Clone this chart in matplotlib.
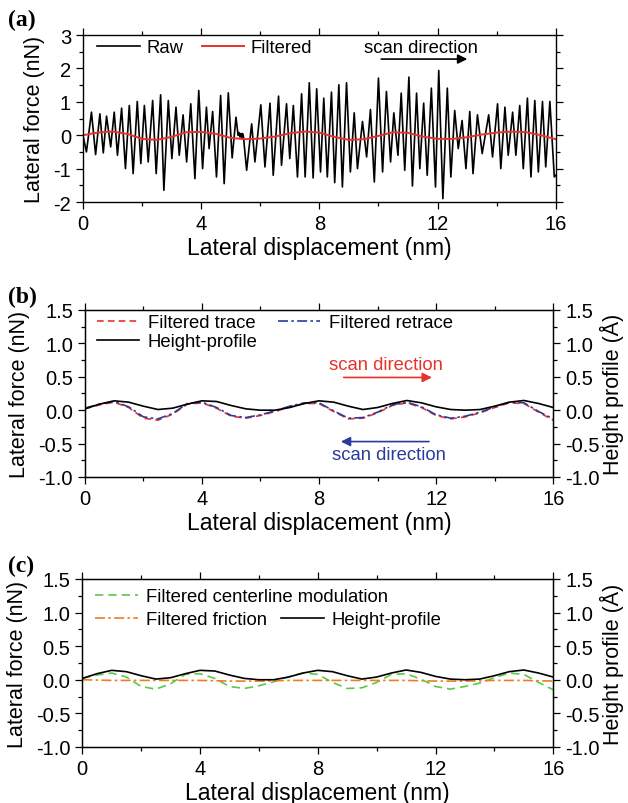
import matplotlib
matplotlib.use("Agg")
import matplotlib.pyplot as plt
from matplotlib.ticker import MultipleLocator

plt.rcParams['font.family'] = ['Liberation Sans', 'DejaVu Sans']
plt.rcParams['axes.unicode_minus'] = False

# ---------------- data ----------------
# Panel (a): raw lateral force (extrema) and filtered signal
raw_x = [0, 0.12, 0.29, 0.43, 0.575, 0.69, 0.80, 0.94, 1.06, 1.17, 1.31, 1.44, 1.57, 1.70,
         1.84, 1.96, 2.08, 2.21, 2.36, 2.48, 2.63, 2.74, 2.89, 3.01, 3.15, 3.26, 3.39, 3.51,
         3.65, 3.79, 3.92, 4.05, 4.18, 4.27, 4.39, 4.52, 4.66, 4.78, 4.92, 5.05, 5.18,
         5.25, 5.28, 5.31, 5.34, 5.37, 5.40, 5.43, 5.54, 5.71, 5.82, 6.02, 6.16, 6.33, 6.44,
         6.62, 6.72, 6.89, 7.00, 7.12, 7.26, 7.40, 7.52, 7.66, 7.79, 7.91, 8.04,
         8.15, 8.27, 8.41, 8.52, 8.66, 8.78, 8.92, 9.05, 9.18, 9.29, 9.46, 9.60, 9.73, 9.86,
         10.0, 10.14, 10.27, 10.41, 10.52, 10.66, 10.77, 10.89, 11.03, 11.15, 11.29, 11.40,
         11.53, 11.65, 11.79, 11.93, 12.04, 12.18,
         12.33, 12.45, 12.58, 12.70, 12.83, 12.96, 13.09, 13.20, 13.35, 13.51, 13.73, 13.86,
         14.03, 14.14, 14.28, 14.39, 14.54, 14.65, 14.78, 14.90, 15.04, 15.16, 15.29, 15.41,
         15.55, 15.66, 15.80, 15.95, 16.0]
raw_y = [0.0, -0.50, 0.69, -0.58, 0.64, -0.53, 0.57, -0.35, 0.69, -0.60, 0.81, -1.00, 0.89, -1.15,
         1.01, -0.85, 0.89, -0.80, 1.04, -1.15, 1.21, -1.65, 1.04, -0.70, 0.84, -0.60, 0.61, -0.80,
         0.94, -1.30, 1.34, -1.00, 0.84, -0.40, 0.71, -1.25, 1.19, -1.45, 1.27, -0.68, 0.54,
         0.00, 0.08, -0.05, 0.05, -0.08, 0.05, -0.02, -1.05, 0.34, -0.80, 0.91, -0.95, 0.96, -1.20,
         1.17, -0.90, 0.94, -0.70, 0.89, -1.25, 1.24, -1.25, 1.57, -1.28, 1.39, -1.10,
         1.11, -1.25, 1.29, -1.42, 1.51, -1.55, 1.57, -1.10, 0.67, -1.00, 0.41, -0.65, 0.77, -1.40,
         1.71, -1.10, 1.31, -0.80, 0.67, -0.60, 1.26, -1.05, 1.74, -1.52, 1.26, -1.00,
         0.96, -1.20, 1.41, -1.55, 1.94, -1.90,
         1.41, -1.25, 0.74, -0.40, 0.44, -1.00, 0.71, -1.15, 0.61, -0.55, 0.61, -0.65,
         0.94, -1.00, 0.84, -0.60, 0.69, -0.60, 0.89, -1.00, 1.11, -1.25, 1.04, -1.10,
         1.01, -0.95, 1.01, -1.25, -1.20]

grid_x = [0.0, 0.5, 1.0, 1.5, 2.0, 2.5, 3.0, 3.5, 4.0, 4.5, 5.0, 5.5, 6.0, 6.5, 7.0, 7.5,
          8.0, 8.5, 9.0, 9.5, 10.0, 10.5, 11.0, 11.5, 12.0, 12.5, 13.0, 13.5, 14.0, 14.5,
          15.0, 15.5, 16.0]
filtered_a = [0.00, 0.08, 0.11, 0.04, -0.11, -0.14, -0.05, 0.09, 0.10, 0.04, -0.08, -0.12,
              -0.10, -0.04, 0.06, 0.11, 0.08, -0.05, -0.14, -0.12, -0.02, 0.09, 0.07, -0.04,
              -0.11, -0.11, -0.06, 0.02, 0.08, 0.11, 0.09, 0.00, -0.12]

# Panel (b)
trace_b = [0.02, 0.08, 0.12, 0.04, -0.12, -0.15, -0.06, 0.09, 0.11, 0.03, -0.09, -0.12,
           -0.08, -0.02, 0.05, 0.10, 0.10, -0.02, -0.13, -0.12, -0.04, 0.07, 0.11, 0.04,
           -0.08, -0.13, -0.10, -0.04, 0.04, 0.11, 0.10, -0.03, -0.15]
retrace_b = [0.03, 0.09, 0.13, 0.05, -0.10, -0.13, -0.05, 0.10, 0.12, 0.04, -0.08, -0.11,
             -0.07, -0.01, 0.06, 0.11, 0.11, -0.01, -0.12, -0.11, -0.03, 0.08, 0.12, 0.05,
             -0.07, -0.12, -0.09, -0.03, 0.05, 0.12, 0.11, -0.02, -0.13]
height = [0.02, 0.09, 0.14, 0.12, 0.06, 0.01, 0.03, 0.09, 0.14, 0.13, 0.07, 0.02,
          0.00, 0.00, 0.04, 0.10, 0.14, 0.12, 0.06, 0.01, 0.04, 0.10, 0.145, 0.11,
          0.05, 0.01, 0.00, 0.01, 0.06, 0.12, 0.145, 0.10, 0.04]

# Panel (c)
centerline_c = [0.02, 0.07, 0.10, 0.04, -0.10, -0.14, -0.06, 0.08, 0.09, 0.02, -0.10, -0.13,
                -0.09, -0.03, 0.04, 0.10, 0.08, -0.04, -0.13, -0.12, -0.04, 0.08, 0.09, 0.01,
                -0.10, -0.14, -0.10, -0.05, 0.03, 0.10, 0.08, -0.04, -0.15]
friction_x = [0, 1, 2, 3, 4, 5, 6, 7, 8, 9, 10, 11, 12, 13, 14, 15, 16]
friction_c = [0.0, -0.01, -0.01, -0.01, -0.01, -0.02, -0.02, -0.01, -0.01, -0.01, -0.01,
              -0.01, -0.02, -0.02, -0.01, -0.01, -0.02]

x_ticks = [0, 4, 8, 12, 16]
y_ticks_a = [-2, -1, 0, 1, 2, 3]
y_ticks_bc = [-1.0, -0.5, 0.0, 0.5, 1.0, 1.5]

RED = '#e8322b'
BLUE = '#2a3b9c'
GREEN = '#5cc84a'
ORANGE = '#f07c1e'

TICK_FS = 14.5
XLABEL_FS = 16.5
YLABEL_FS = 15.5
LEG_FS = 13.3

fig = plt.figure(figsize=(6.28, 8.04), dpi=100)


def style_axis(ax, ymaj, ymin, right=True):
    ax.set_xlim(0, 16)
    ax.set_xticks(x_ticks)
    ax.xaxis.set_minor_locator(MultipleLocator(2))
    ax.yaxis.set_major_locator(MultipleLocator(ymaj))
    ax.yaxis.set_minor_locator(MultipleLocator(ymin))
    ax.tick_params(which='both', direction='out', top=True, right=right,
                   labelsize=TICK_FS, width=0.9)
    ax.tick_params(which='major', length=5)
    ax.tick_params(which='minor', length=3)
    for s in ax.spines.values():
        s.set_linewidth(1.0)
    ax.set_xlabel('Lateral displacement (nm)', fontsize=XLABEL_FS, labelpad=2)
    ax.set_ylabel('Lateral force (nN)', fontsize=YLABEL_FS, labelpad=6)


def style_twin(ax2):
    ax2.set_ylim(-1.0, 1.5)
    ax2.yaxis.set_minor_locator(MultipleLocator(0.25))
    ax2.set_yticks(y_ticks_bc)
    ax2.set_yticklabels(['%.1f' % v for v in y_ticks_bc])
    ax2.tick_params(which='both', direction='out', labelsize=TICK_FS, width=0.9)
    ax2.tick_params(which='major', length=5)
    ax2.tick_params(which='minor', length=3)
    ax2.set_ylabel('Height profile (Å)', fontsize=YLABEL_FS, labelpad=0)


# ---------- (a) ----------
axA = fig.add_axes([0.132, 0.7475, 0.753, 0.2077])
axA.plot(raw_x, raw_y, color='black', lw=1.2, solid_joinstyle='round', label='Raw')
axA.plot(grid_x, filtered_a, color=RED, lw=1.4, label='Filtered')
axA.set_ylim(-2, 3)
axA.set_yticks(y_ticks_a)
style_axis(axA, 1, 0.5)
axA.legend(loc='upper left', bbox_to_anchor=(0.03, 0.975), ncol=2, frameon=False,
           fontsize=LEG_FS, handlelength=2.3, handletextpad=0.35, columnspacing=1.0,
           borderpad=0, borderaxespad=0)
axA.annotate('', xy=(13.1, 2.28), xytext=(10.0, 2.28),
             arrowprops=dict(arrowstyle='-|>', color='black', lw=1.2, mutation_scale=14))
axA.text(11.45, 2.62, 'scan direction', fontsize=LEG_FS, ha='center', va='center')
fig.text(0.012, 0.974, '(a)', fontsize=17, fontweight='bold', family='Liberation Serif',
         va='center', ha='left')

# ---------- (b) ----------
axB = fig.add_axes([0.135, 0.4055, 0.746, 0.2077])
l_tr, = axB.plot(grid_x, trace_b, color=RED, lw=1.2, dashes=(4, 2.5), label='Filtered trace')
l_re, = axB.plot(grid_x, retrace_b, color=BLUE, lw=1.2, dashes=(6, 2, 1.5, 2),
                 label='Filtered retrace')
axB.set_ylim(-1.0, 1.5)
style_axis(axB, 0.5, 0.25, right=False)
axB.set_yticks(y_ticks_bc)
axB.set_yticklabels(['%.1f' % v for v in y_ticks_bc])
axB2 = axB.twinx()
l_hb, = axB2.plot(grid_x, height, color='black', lw=1.2, label='Height-profile')
style_twin(axB2)
axB2.legend([l_tr, l_hb, l_re], ['Filtered trace', 'Height-profile', 'Filtered retrace'],
            loc='upper left', bbox_to_anchor=(0.026, 0.975), ncol=2, frameon=False,
            fontsize=LEG_FS, handlelength=2.3, handletextpad=0.45, columnspacing=1.1,
            labelspacing=0.12, borderpad=0, borderaxespad=0)
axB.annotate('', xy=(11.95, 0.49), xytext=(8.75, 0.49),
             arrowprops=dict(arrowstyle='-|>', color=RED, lw=1.2, mutation_scale=14))
axB.text(10.3, 0.69, 'scan direction', fontsize=LEG_FS, ha='center', va='center', color=RED)
axB.annotate('', xy=(8.65, -0.47), xytext=(11.85, -0.47),
             arrowprops=dict(arrowstyle='-|>', color=BLUE, lw=1.2, mutation_scale=14))
axB.text(10.4, -0.66, 'scan direction', fontsize=LEG_FS, ha='center', va='center', color=BLUE)
fig.text(0.012, 0.630, '(b)', fontsize=17, fontweight='bold', family='Liberation Serif',
         va='center', ha='left')

# ---------- (c) ----------
axC = fig.add_axes([0.131, 0.0697, 0.750, 0.209])
l_cl, = axC.plot(grid_x, centerline_c, color=GREEN, lw=1.2, dashes=(5, 3),
                 label='Filtered centerline modulation')
l_fr, = axC.plot(friction_x, friction_c, color=ORANGE, lw=1.2, dashes=(6, 2, 1.5, 2),
                 label='Filtered friction')
axC.set_ylim(-1.0, 1.5)
style_axis(axC, 0.5, 0.25, right=False)
axC.set_yticks(y_ticks_bc)
axC.set_yticklabels(['%.1f' % v for v in y_ticks_bc])
axC2 = axC.twinx()
l_hc, = axC2.plot(grid_x, height, color='black', lw=1.2, label='Height-profile')
style_twin(axC2)
leg1 = axC2.legend([l_cl], ['Filtered centerline modulation'], loc='upper left',
                   bbox_to_anchor=(0.028, 0.945), frameon=False, fontsize=LEG_FS,
                   handlelength=2.3, handletextpad=0.45, borderpad=0, borderaxespad=0)
axC2.add_artist(leg1)
axC2.legend([l_fr, l_hc], ['Filtered friction', 'Height-profile'], loc='upper left',
            bbox_to_anchor=(0.028, 0.808), ncol=2, frameon=False, fontsize=LEG_FS,
            handlelength=2.3, handletextpad=0.45, columnspacing=0.75,
            borderpad=0, borderaxespad=0)
fig.text(0.012, 0.295, '(c)', fontsize=17, fontweight='bold', family='Liberation Serif',
         va='center', ha='left')

fig.savefig('out.png', dpi=100)
